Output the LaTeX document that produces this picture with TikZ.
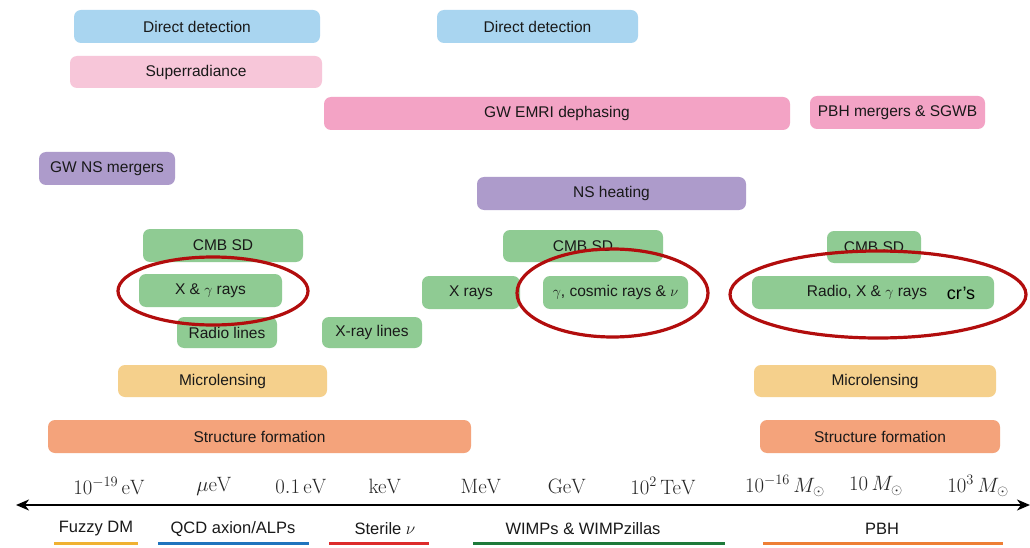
\documentclass[tikz,border=0pt]{standalone}
\usepackage[no-math]{fontspec}
\setmainfont{Liberation Sans}
\usetikzlibrary{arrows.meta}
\definecolor{cdd}{HTML}{A9D5F0}
\definecolor{csup}{HTML}{F7C6D9}
\definecolor{cgw}{HTML}{F3A3C5}
\definecolor{cpur}{HTML}{AD9BCB}
\definecolor{cgrn}{HTML}{8FCB93}
\definecolor{cmic}{HTML}{F5D08C}
\definecolor{csf}{HTML}{F4A37B}
\definecolor{cell}{HTML}{B20D0D}
\definecolor{ufz}{HTML}{F0B232}
\definecolor{uqcd}{HTML}{1F74BE}
\definecolor{ust}{HTML}{DD2A2A}
\definecolor{uwi}{HTML}{1E7A3A}
\definecolor{upbh}{HTML}{EE7F35}
\begin{document}
\begin{tikzpicture}[x=1pt,y=-1pt,
  box/.style={rounded corners=7pt, inner sep=0pt, minimum height=33, text=black!90,
              font=\fontsize{15.5}{18}\selectfont},
  ell/.style={draw=cell, line width=3.2pt},
  axlab/.style={font=\fontsize{19.5}{22}\selectfont, text=black!85, inner sep=0pt},
  bottomlab/.style={font=\fontsize{16.5}{19}\selectfont, text=black!90, inner sep=0pt},
  uline/.style={line width=3pt}]
\useasboundingbox[fill=white] (0,0) rectangle (1030,548);

% boxes
\node[box, fill=cdd, minimum width=246] (dd1) at (197,26.5) {Direct detection};
\node[box, fill=cdd, minimum width=201] (dd2) at (537.5,26.5) {Direct detection};
\node[box, fill=csup, minimum width=252, minimum height=32] (sup) at (196,72) {Superradiance};
\node[box, fill=cgw, minimum width=466] (emri) at (557,113.5) {GW EMRI dephasing};
\node[box, fill=cgw, minimum width=175] (pbhm) at (897.5,112.5) {PBH mergers \& SGWB};
\node[box, fill=cpur, minimum width=136] (nsm) at (107,168.5) {GW NS mergers};
\node[box, fill=cpur, minimum width=269] (nsh) at (611.5,193.5) {NS heating};
\node[box, fill=cgrn, minimum width=160] (cmb1) at (223,245.5) {CMB SD};
\node[box, fill=cgrn, minimum width=143] (xg1) at (210.5,290.5) {X \& $\gamma$ rays};
\node[box, fill=cgrn, minimum width=100, minimum height=31] (radio) at (227,332.5) {Radio lines};
\node[box, fill=cgrn, minimum width=100, minimum height=31] (xrl) at (372,332.5) {X-ray lines};
\node[box, fill=cmic, minimum width=209, minimum height=32] (mic1) at (222.5,381) {Microlensing};
\node[box, fill=csf, minimum width=423] (sf1) at (259.5,436.5) {Structure formation};
\node[box, fill=cgrn, minimum width=160, minimum height=32] (cmb2) at (583,246) {CMB SD};
\node[box, fill=cgrn, minimum width=98] (xr) at (471,292.5) {X rays};
\node[box, fill=cgrn, minimum width=145] (gcr) at (615.5,292.5) {$\gamma$, cosmic rays \& $\nu$};
\node[box, fill=cgrn, minimum width=94, minimum height=32] (cmb3) at (874,247) {CMB SD};
\node[box, fill=cgrn, minimum width=242,
      label={[box, xshift=-6pt]center:Radio, X \& $\gamma$ rays}] (rxg) at (873,292.5) {};
\node[font=\fontsize{18}{20}\selectfont, text=black, inner sep=0pt] (crs) at (961,293) {cr’s};
\node[box, fill=cmic, minimum width=242, minimum height=32] (mic2) at (875,381) {Microlensing};
\node[box, fill=csf, minimum width=240] (sf2) at (880,436.5) {Structure formation};

% ellipses
\draw[ell] (213,291) ellipse [x radius=95, y radius=34];
\draw[ell] (612.5,293) ellipse [x radius=95.5, y radius=44];
\draw[ell] (878,294.5) ellipse [x radius=148, y radius=43.5];

% axis
\coordinate (axL) at (16,505);
\coordinate (axR) at (1030,505);
\draw[line width=2pt, {Stealth[length=13pt,width=11pt,inset=4pt]}-{Stealth[length=13pt,width=11pt,inset=4pt]}] (axL) -- (axR);

\node[axlab] (a1) at (109,486) {$10^{-19}\,\mathrm{eV}$};
\node[axlab] (a2) at (214,486) {$\mu\mathrm{eV}$};
\node[axlab] (a3) at (301,486) {$0.1\,\mathrm{eV}$};
\node[axlab] (a4) at (385,486) {$\mathrm{keV}$};
\node[axlab] (a5) at (481,486) {$\mathrm{MeV}$};
\node[axlab] (a6) at (567,486) {$\mathrm{GeV}$};
\node[axlab] (a7) at (663,486) {$10^{2}\,\mathrm{TeV}$};
\node[axlab] (a8) at (785,486) {$10^{-16}\,M_\odot$};
\node[axlab] (a9) at (876,486) {$10\,M_\odot$};
\node[axlab] (a10) at (978,486) {$10^{3}\,M_\odot$};

% bottom categories
\node[bottomlab] (fz) at (96,529) {Fuzzy DM};
\node[bottomlab] (qcd) at (233,529) {QCD axion/ALPs};
\node[bottomlab] (st) at (385,529) {Sterile $\nu$};
\node[bottomlab] (wi) at (583,529) {WIMPs \& WIMPzillas};
\node[bottomlab] (pb) at (882,529) {PBH};
\draw[uline, draw=ufz] (54,543) -- (138,543);
\draw[uline, draw=uqcd] (158,543) -- (309,543);
\draw[uline, draw=ust] (329,543) -- (429,543);
\draw[uline, draw=uwi] (473,543) -- (725,543);
\draw[uline, draw=upbh] (763,543) -- (1003,543);
\end{tikzpicture}
\end{document}
